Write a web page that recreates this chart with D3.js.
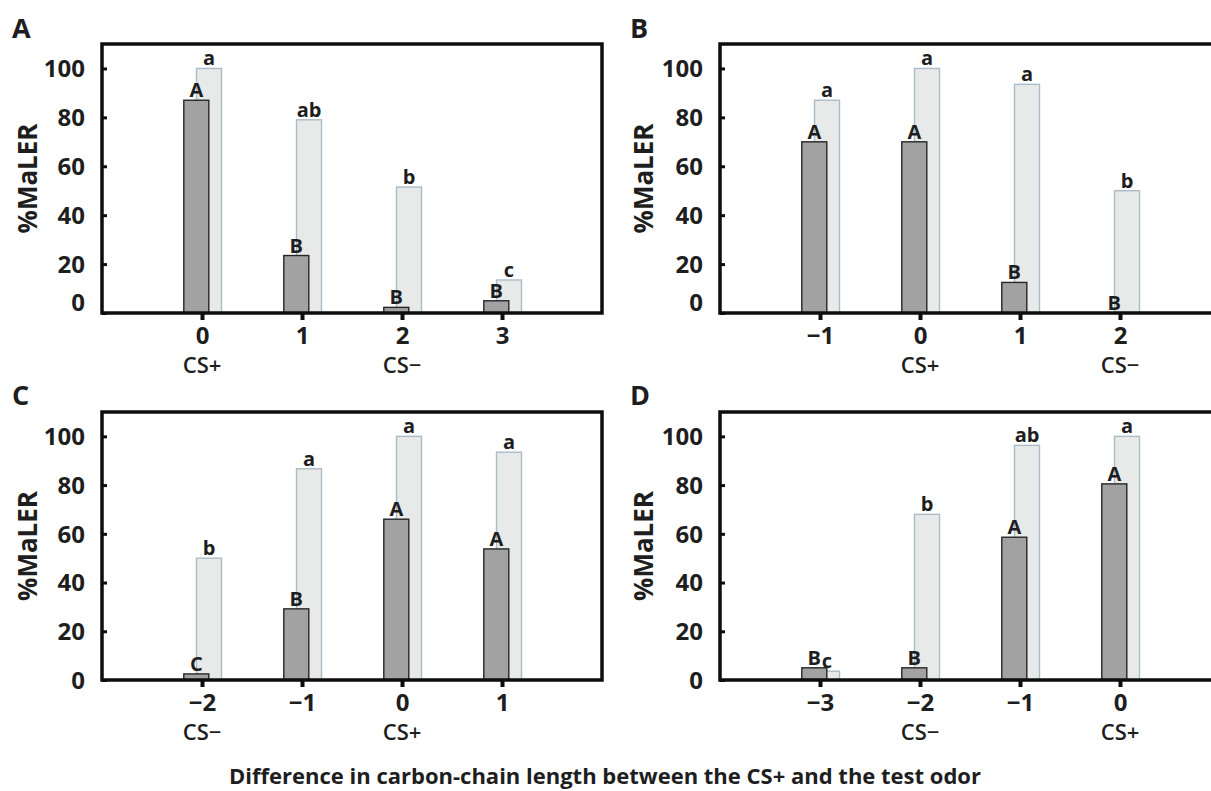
<!DOCTYPE html>
<html><head><meta charset="utf-8">
<script src="https://cdn.jsdelivr.net/npm/d3@7"></script>
<style>
html,body{margin:0;padding:0;background:#fff;}
svg{display:block;}
text{font-family:"Open Sans","DejaVu Sans",sans-serif;fill:#1e1e1e;}
</style></head>
<body>
<svg id="chart" width="1211" height="791"></svg>
<script>
// ---- data ----
const panelNames = ["A", "B", "C", "D"];
const catsA = [0, 1, 2, 3];
const catsB = [-1, 0, 1, 2];
const catsC = [-2, -1, 0, 1];
const catsD = [-3, -2, -1, 0];
const subA = ["CS+", "", "CS−", ""];
const subB = ["", "CS+", "", "CS−"];
const subC = ["CS−", "", "CS+", ""];
const subD = ["", "CS−", "", "CS+"];
const darkA = [87, 23.5, 2.3, 5];
const lightA = [100, 79, 51.5, 13.5];
const darkB = [70, 70, 12.5, 0];
const lightB = [87, 100, 93.5, 50];
const darkC = [2.5, 29.2, 66, 53.8];
const lightC = [50, 86.7, 100, 93.5];
const darkD = [5, 5, 58.6, 80.5];
const lightD = [3.6, 68, 96.3, 100];
const darkLetA = ["A", "B", "B", "B"];
const lightLetA = ["a", "ab", "b", "c"];
const darkLetB = ["A", "A", "B", "B"];
const lightLetB = ["a", "a", "a", "b"];
const darkLetC = ["C", "B", "A", "A"];
const lightLetC = ["b", "a", "a", "a"];
const darkLetD = ["B", "B", "A", "A"];
const lightLetD = ["c", "b", "ab", "a"];
const yTicks = [0, 20, 40, 60, 80, 100];
const yLabel = "%MaLER";
const xTitle = "Difference in carbon-chain length between the CS+ and the test odor";

const panels = [
  {name: panelNames[0], cats: catsA, sub: subA, dark: darkA, light: lightA, dl: darkLetA, ll: lightLetA},
  {name: panelNames[1], cats: catsB, sub: subB, dark: darkB, light: lightB, dl: darkLetB, ll: lightLetB},
  {name: panelNames[2], cats: catsC, sub: subC, dark: darkC, light: lightC, dl: darkLetC, ll: lightLetC},
  {name: panelNames[3], cats: catsD, sub: subD, dark: darkD, light: lightD, dl: darkLetD, ll: lightLetD}
];

// ---- layout ----
const boxes = [
  {left: 102, right: 602, top: 44, bottom: 313, zeroShift: -11, letterX: 12, letterY: 38, ylabX: 28},
  {left: 720, right: 1220, top: 44, bottom: 313, zeroShift: -11, letterX: 630, letterY: 38, ylabX: 644},
  {left: 102, right: 602, top: 412, bottom: 680, zeroShift: 0, letterX: 12, letterY: 405, ylabX: 28},
  {left: 720, right: 1220, top: 412, bottom: 680, zeroShift: 0, letterX: 630, letterY: 405, ylabX: 644}
];

const fmt = v => (v < 0 ? "−" + Math.abs(v) : String(v));
const svg = d3.select("#chart");

panels.forEach((p, i) => {
  const b = boxes[i];
  const lo = p.cats[0] - 1;
  const x = d3.scaleLinear().domain([lo, lo + 5]).range([b.left, b.right]);
  const y = d3.scaleLinear().domain([0, 110]).range([b.bottom, b.top]);
  const step = x(1) - x(0);
  const bw = step * 0.25;
  const dOff = -step * 0.057;
  const lOff = step * 0.07;
  const g = svg.append("g");

  // light bars (behind)
  g.selectAll("rect.light").data(p.cats).enter().append("rect")
    .attr("x", (c) => x(c) + lOff - bw / 2)
    .attr("y", (c, j) => y(p.light[j]))
    .attr("width", bw)
    .attr("height", (c, j) => y(0) - y(p.light[j]))
    .attr("fill", "#e8e9e9").attr("stroke", "#a9bcc8").attr("stroke-width", 1.4);
  // dark bars
  g.selectAll("rect.dark").data(p.cats).enter().append("rect")
    .attr("x", (c) => x(c) + dOff - bw / 2)
    .attr("y", (c, j) => y(p.dark[j]))
    .attr("width", bw)
    .attr("height", (c, j) => y(0) - y(p.dark[j]))
    .attr("fill", "#a2a2a3").attr("stroke", "#262626").attr("stroke-width", 1.4);

  // letters
  g.selectAll("text.ll").data(p.cats).enter().append("text")
    .attr("x", (c) => x(c) + lOff)
    .attr("y", (c, j) => y(p.light[j]) - 3)
    .attr("text-anchor", "middle").attr("font-size", 20).attr("font-weight", 700)
    .text((c, j) => p.ll[j]);
  g.selectAll("text.dl").data(p.cats).enter().append("text")
    .attr("x", (c) => x(c) + dOff)
    .attr("y", (c, j) => y(p.dark[j]) - 3)
    .attr("text-anchor", "middle").attr("font-size", 20).attr("font-weight", 700)
    .text((c, j) => p.dl[j]);

  // frame
  g.append("rect").attr("x", b.left).attr("y", b.top)
    .attr("width", b.right - b.left).attr("height", b.bottom - b.top)
    .attr("fill", "none").attr("stroke", "#0d0d0d").attr("stroke-width", 3.5);

  // y axis
  const ya = d3.axisLeft(y).tickValues(yTicks).tickSize(-5).tickPadding(17);
  const yg = g.append("g").attr("transform", `translate(${b.left},0)`).call(ya);
  yg.select(".domain").remove();
  yg.selectAll(".tick line").attr("stroke", "#0d0d0d").attr("stroke-width", 3);
  yg.selectAll(".tick text").attr("font-size", 24).attr("font-weight", 700)
    .attr("font-family", "Open Sans").attr("fill", "#1e1e1e")
    .attr("dy", d => d === 0 ? (b.zeroShift + 8) + "px" : "0.35em");

  // x axis
  const xa = d3.axisBottom(x).tickValues(p.cats).tickSize(7).tickPadding(7).tickFormat(fmt);
  const xg = g.append("g").attr("transform", `translate(0,${b.bottom})`).call(xa);
  xg.select(".domain").remove();
  xg.selectAll(".tick line").attr("stroke", "#0d0d0d").attr("stroke-width", 4);
  xg.selectAll(".tick text").attr("font-size", 24).attr("font-weight", 700)
    .attr("font-family", "Open Sans").attr("fill", "#1e1e1e");

  // sublabels
  g.selectAll("text.sub").data(p.cats).enter().append("text")
    .attr("x", c => x(c))
    .attr("y", b.bottom + 60)
    .attr("text-anchor", "middle").attr("font-size", 22).attr("font-weight", 600)
    .text((c, j) => p.sub[j]);

  // y label
  g.append("text")
    .attr("transform", `translate(${b.ylabX + 9},${(b.top + b.bottom) / 2}) rotate(-90)`)
    .attr("text-anchor", "middle").attr("font-size", 26).attr("font-weight", 700)
    .text(yLabel);

  // panel letter
  g.append("text").attr("x", b.letterX).attr("y", b.letterY)
    .attr("font-size", 27).attr("font-weight", 700).attr("fill", "#111")
    .text(p.name);
});

svg.append("text").attr("x", 605).attr("y", 784)
  .attr("text-anchor", "middle").attr("font-size", 22).attr("font-weight", 700)
  .text(xTitle);
</script>
</body></html>
